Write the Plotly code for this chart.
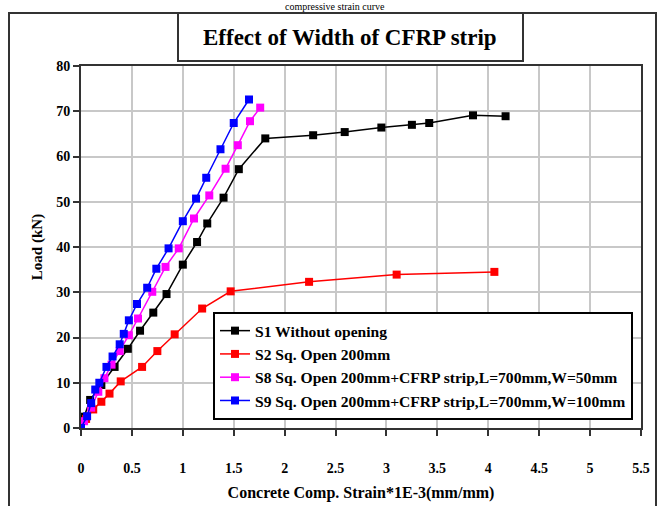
import plotly.graph_objects as go

# ---- data ----
s1_x = [0, 0.03, 0.09, 0.2, 0.33, 0.46, 0.58, 0.71, 0.84, 1.0, 1.14, 1.24, 1.40, 1.55, 1.81, 2.28, 2.59, 2.95, 3.25, 3.42, 3.85, 4.17]
s1_y = [0, 2.5, 6.2, 9.5, 13.5, 17.5, 21.5, 25.5, 29.6, 36.1, 41.1, 45.2, 50.9, 57.2, 64.0, 64.7, 65.4, 66.4, 67.0, 67.4, 69.1, 68.9]

s2_x = [0, 0.05, 0.12, 0.2, 0.28, 0.39, 0.6, 0.75, 0.92, 1.19, 1.47, 2.24, 3.10, 4.06]
s2_y = [0, 2.0, 4.1, 5.8, 7.6, 10.3, 13.5, 17.0, 20.7, 26.4, 30.2, 32.3, 33.9, 34.5]

s8_x = [0, 0.03, 0.1, 0.17, 0.23, 0.3, 0.38, 0.47, 0.56, 0.70, 0.83, 0.96, 1.11, 1.26, 1.42, 1.54, 1.66, 1.76]
s8_y = [0, 1.5, 4.5, 8.0, 11.0, 14.0, 17.0, 20.5, 24.2, 30.1, 35.6, 39.7, 46.3, 51.4, 57.3, 62.5, 67.8, 70.8]

s9_x = [0, 0.06, 0.1, 0.14, 0.18, 0.25, 0.31, 0.38, 0.42, 0.47, 0.55, 0.65, 0.74, 0.86, 1.0, 1.13, 1.23, 1.37, 1.50, 1.65]
s9_y = [0, 2.6, 5.5, 8.5, 10.0, 13.5, 15.8, 18.5, 20.8, 23.8, 27.4, 31.0, 35.2, 39.7, 45.7, 50.7, 55.3, 61.6, 67.4, 72.6]

names = [
    "S1 Without opening",
    "S2 Sq. Open 200mm",
    "S8 Sq. Open 200mm+CFRP strip,L=700mm,W=50mm",
    "S9 Sq. Open 200mm+CFRP strip,L=700mm,W=100mm",
]
colors = ["#000000", "#ff0000", "#ff00ff", "#0000ff"]

x_ticks = [0, 0.5, 1, 1.5, 2, 2.5, 3, 3.5, 4, 4.5, 5, 5.5]
x_tick_text = ["0", "0.5", "1", "1.5", "2", "2.5", "3", "3.5", "4", "4.5", "5", "5.5"]
y_ticks = [0, 10, 20, 30, 40, 50, 60, 70, 80]

title_text = "Effect of Width of CFRP strip"
x_title = "Concrete Comp. Strain*1E-3(mm/mm)"
y_title = "Load (kN)"
top_caption = "compressive strain curve"

serif = "Liberation Serif, Times New Roman, serif"

fig = go.Figure()
for xs, ys, nm, c in zip([s1_x, s2_x, s8_x, s9_x], [s1_y, s2_y, s8_y, s9_y], names, colors):
    fig.add_trace(go.Scatter(
        x=xs, y=ys, name=nm, mode="lines+markers",
        line=dict(color=c, width=1.5),
        marker=dict(symbol="square", size=8, color=c),
    ))

W, H = 668, 506
L, R, T, B = 81, 27, 66, 78
pw = W - L - R
ph = H - T - B

def px(xp):
    return (xp - L) / pw

def py(yp):
    return (H - B - yp) / ph

fig.update_layout(
    width=W, height=H,
    margin=dict(l=L, r=R, t=T, b=B, autoexpand=False),
    paper_bgcolor="white", plot_bgcolor="white",
    showlegend=True,
    legend=dict(
        x=px(213), y=py(312), xanchor="left", yanchor="top",
        bordercolor="black", borderwidth=2, bgcolor="white",
        font=dict(family=serif, size=15.6, color="black", weight="bold"),
        itemwidth=30, tracegroupgap=0,
    ),
    xaxis=dict(
        range=[0, 5.5], tickvals=x_ticks, ticktext=x_tick_text,
        showgrid=True, gridcolor="#c8c8c8", gridwidth=1.5,
        showline=True, linecolor="#333", linewidth=2, mirror=True,
        ticks="outside", ticklen=6, tickcolor="#333", tickwidth=2,
        tickfont=dict(family=serif, size=14, color="black", weight="bold"),
        ticklabelstandoff=20, automargin=False,
        zeroline=False,
        title=dict(text=x_title, font=dict(family=serif, size=16, color="black", weight="bold"), standoff=12),
    ),
    yaxis=dict(
        range=[0, 80], tickvals=y_ticks,
        showgrid=True, gridcolor="#c8c8c8", gridwidth=1.5,
        showline=True, linecolor="#333", linewidth=2, mirror=True,
        ticks="outside", ticklen=6, tickcolor="#333", tickwidth=2,
        tickfont=dict(family=serif, size=14, color="black", weight="bold"),
        zeroline=False, automargin=False,
        title=dict(text=y_title, font=dict(family=serif, size=15, color="black", weight="bold"), standoff=10),
    ),
)

# outer frame, title box
fig.add_shape(type="rect", xref="paper", yref="paper",
              x0=px(9), x1=px(656), y0=py(520), y1=py(13),
              line=dict(color="#333", width=2), layer="below")
fig.add_shape(type="rect", xref="paper", yref="paper",
              x0=px(178), x1=px(523), y0=py(61), y1=py(13),
              line=dict(color="#333", width=2), fillcolor="white")
fig.add_annotation(text=title_text, xref="paper", yref="paper",
                   x=px(350), y=py(37), xanchor="center", yanchor="middle",
                   showarrow=False,
                   font=dict(family=serif, size=23, color="black", weight="bold"))
fig.add_annotation(text=top_caption, xref="paper", yref="paper",
                   x=px(335), y=py(0), xanchor="center", yanchor="top",
                   showarrow=False, borderpad=0,
                   font=dict(family=serif, size=10, color="black"))

fig.write_html("out.html")
